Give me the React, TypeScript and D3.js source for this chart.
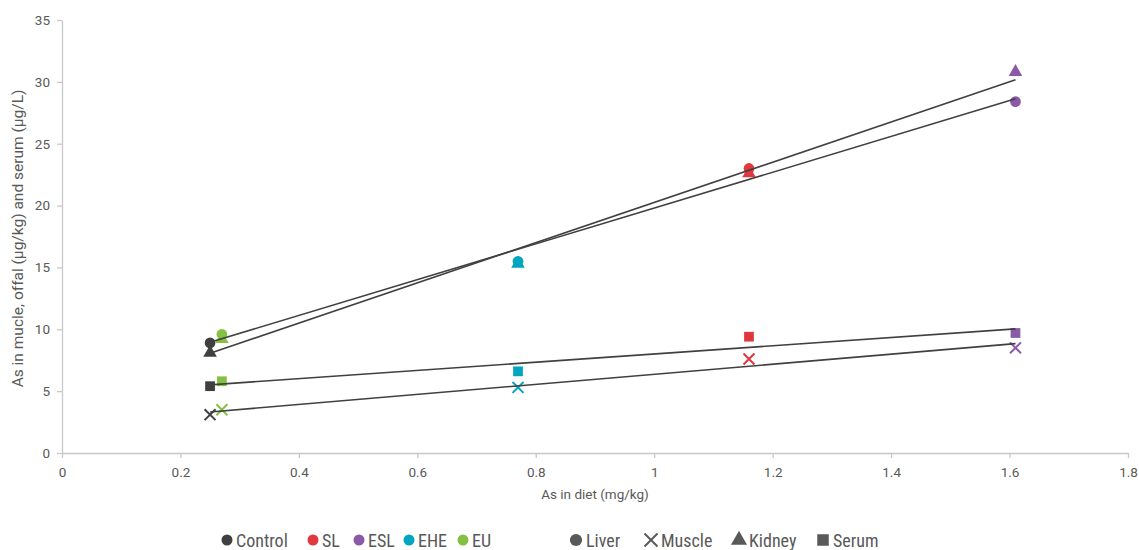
import React, { useEffect, useRef } from "react";
import * as d3 from "d3";

const groups = ["Control", "SL", "ESL", "EHE", "EU"];
const groupColors = ["#404040", "#e0383e", "#8a5aa8", "#00a6c0", "#84c042"];
const dietAs = [0.25, 1.16, 1.61, 0.77, 0.27];

const tissues = ["Liver", "Muscle", "Kidney", "Serum"];
const liver = [8.9, 23.0, 28.4, 15.5, 9.6];
const muscle = [3.1, 7.6, 8.5, 5.3, 3.5];
const kidney = [8.1, 22.6, 30.8, 15.3, 9.2];
const serum = [5.4, 9.4, 9.7, 6.6, 5.8];
const tissueValues = [liver, muscle, kidney, serum];

const xTicks = [0, 0.2, 0.4, 0.6, 0.8, 1, 1.2, 1.4, 1.6, 1.8];
const yTicks = [0, 5, 10, 15, 20, 25, 30, 35];

const font = "'Liberation Sans Narrow', 'Roboto Condensed', Roboto, sans-serif";
const tickFont = "Roboto, 'Liberation Sans', sans-serif";

const App: React.FC = () => {
  const svgRef = useRef<SVGSVGElement | null>(null);

  useEffect(() => {
    if (!svgRef.current) return;
    const svg = d3.select(svgRef.current);
    svg.selectAll("*").remove();

    const width = 1139;
    const height = 550;
    const margin = { top: 20, right: 11, bottom: 97, left: 62 };
    const innerWidth = width - margin.left - margin.right;
    const innerHeight = height - margin.top - margin.bottom;

    svg.attr("width", width).attr("height", height);
    svg.append("rect").attr("width", width).attr("height", height).attr("fill", "#fff");

    const g = svg.append("g").attr("transform", `translate(${margin.left},${margin.top})`);

    const x = d3.scaleLinear().domain([0, 1.8]).range([0, innerWidth]);
    const y = d3.scaleLinear().domain([0, 35]).range([innerHeight, 0]);

    const axisColor = "#c8c8c8";
    const labelColor = "#595959";

    const xAxis = g
      .append("g")
      .attr("transform", `translate(0,${innerHeight})`)
      .call(d3.axisBottom(x).tickValues(xTicks).tickSize(5).tickSizeOuter(0).tickFormat((d) => String(d)));
    const yAxis = g
      .append("g")
      .call(d3.axisLeft(y).tickValues(yTicks).tickSize(5).tickSizeOuter(0));
    [xAxis, yAxis].forEach((a) => {
      a.select(".domain").attr("stroke", axisColor).attr("stroke-width", 1.3);
      a.selectAll(".tick line").attr("stroke", axisColor).attr("stroke-width", 1.3);
      a.selectAll(".tick text")
        .attr("fill", labelColor)
        .style("font-family", tickFont)
        .style("font-size", "13.5px");
    });
    xAxis.selectAll(".tick text").attr("dy", "1.2em");
    yAxis.selectAll(".tick text").attr("x", -12);

    // axis titles
    svg
      .append("text")
      .attr("x", margin.left + innerWidth / 2)
      .attr("y", 499)
      .attr("text-anchor", "middle")
      .attr("fill", labelColor)
      .style("font-family", tickFont)
      .style("font-size", "13.5px")
      .text("As in diet (mg/kg)");
    svg
      .append("text")
      .attr("transform", `translate(23,${margin.top + innerHeight / 2 + 2}) rotate(-90)`)
      .attr("text-anchor", "middle")
      .attr("fill", labelColor)
      .style("font-family", tickFont)
      .style("font-size", "15.5px")
      .text("As in mucle, offal (µg/kg) and serum (µg/L)");

    const symbols = [d3.symbolCircle, d3.symbolTimes, d3.symbolTriangle, d3.symbolSquare];
    const sizes = [90, 80, 80, 95];

    const drawMarker = (
      sel: d3.Selection<SVGGElement, unknown, null, undefined>,
      t: number,
      color: string,
      cx: number,
      cy: number,
      scale = 1
    ) => {
      const p = sel
        .append("path")
        .attr("d", d3.symbol().type(symbols[t]).size(sizes[t] * scale)()!)
        .attr("transform", `translate(${cx},${cy})`);
      if (t === 1) p.attr("fill", "none").attr("stroke", color).attr("stroke-width", 2);
      else p.attr("fill", color);
    };

    const marks = g.append("g");
    tissueValues.forEach((vals, t) => {
      vals.forEach((v, i) => {
        drawMarker(marks as any, t, groupColors[i], x(dietAs[i]), y(v));
      });
    });

    // linear trend lines per tissue
    const lines = g.append("g");
    tissueValues.forEach((vals) => {
      const mx = d3.mean(dietAs)!;
      const my = d3.mean(vals)!;
      let sxy = 0;
      let sxx = 0;
      dietAs.forEach((xv, i) => {
        sxy += (xv - mx) * (vals[i] - my);
        sxx += (xv - mx) * (xv - mx);
      });
      const slope = sxy / sxx;
      const x0 = d3.min(dietAs)!;
      const x1 = d3.max(dietAs)!;
      lines
        .append("line")
        .attr("x1", x(x0))
        .attr("y1", y(my + slope * (x0 - mx)))
        .attr("x2", x(x1))
        .attr("y2", y(my + slope * (x1 - mx)))
        .attr("stroke", "#404040")
        .attr("stroke-width", 1.6);
    });

    // legend
    const legY = 540;
    const leg = svg.append("g");
    const groupX = [227, 313, 359, 409, 463];
    groups.forEach((name, i) => {
      leg
        .append("circle")
        .attr("cx", groupX[i])
        .attr("cy", legY)
        .attr("r", 5.5)
        .attr("fill", groupColors[i]);
      leg
        .append("text")
        .attr("x", groupX[i] + 9)
        .attr("y", legY + 6.5)
        .attr("fill", labelColor)
        .style("font-family", font)
        .style("font-size", "18px")
        .text(name);
    });
    const tissueX = [576, 651, 739, 823];
    tissues.forEach((name, t) => {
      drawMarker(leg as any, t, "#595959", tissueX[t], legY, t === 0 ? 1.3 : 1.4);
      leg
        .append("text")
        .attr("x", tissueX[t] + 10)
        .attr("y", legY + 6.5)
        .attr("fill", labelColor)
        .style("font-family", font)
        .style("font-size", "18px")
        .text(name);
    });
  }, []);

  return <svg ref={svgRef} style={{ position: "absolute", left: 0, top: 0 }}></svg>;
};

export default App;
